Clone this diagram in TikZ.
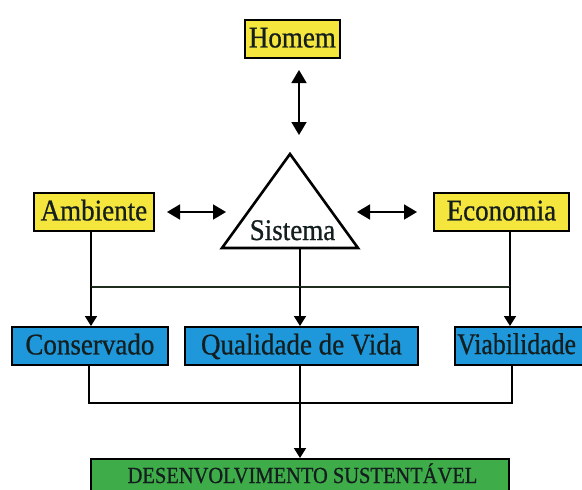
\documentclass[tikz,border=0pt]{standalone}
\usepackage{fontspec}
\setmainfont{Liberation Serif}
\newfontfamily\lblfont[FakeStretch=0.9,FakeBold=0.7]{Liberation Serif}
\newfontfamily\viafont[FakeStretch=0.86,FakeBold=0.7]{Liberation Serif}
\newfontfamily\desfont[FakeStretch=0.89,FakeBold=0.7]{Liberation Serif}
\usetikzlibrary{arrows.meta}
\definecolor{ybox}{RGB}{244,230,60}
\definecolor{bbox}{RGB}{30,152,218}
\definecolor{gbox}{RGB}{62,172,72}
\definecolor{dline}{RGB}{30,45,30}
\definecolor{tcol}{RGB}{20,30,30}
\tikzset{
  boxbase/.style={draw=black, line width=1.8pt, inner sep=0pt, anchor=north west,
    text=tcol, text height=20pt, text depth=3pt},
  lbl/.style={font=\lblfont\fontsize{30}{32}\selectfont},
  ybx/.style={boxbase, fill=ybox, lbl},
  bbx/.style={boxbase, fill=bbox, lbl},
  gbx/.style={boxbase, fill=gbox},
  conn/.style={line width=1.8pt, draw=black},
  arr/.style={conn, -{Triangle[length=10pt,width=12pt]}},
  darr/.style={conn, {Triangle[length=13pt,width=15pt]}-{Triangle[length=13pt,width=15pt]}},
}
\begin{document}
\begin{tikzpicture}[x=1pt,y=-1pt]
\useasboundingbox (0,0) rectangle (582,490);
% yellow boxes
\node[ybx, minimum width=95pt, minimum height=38pt] (homem) at (244,19) {Homem};
\node[ybx, minimum width=120pt, minimum height=38pt] (amb) at (33,192) {Ambiente};
\node[ybx, minimum width=135pt, minimum height=38pt] (eco) at (433,192) {Economia};
% triangle
\coordinate (tA) at (290,154);
\coordinate (tL) at (222,248);
\coordinate (tR) at (358,248);
\draw[line width=2.6pt, fill=white, line join=miter] (tA) -- (tL) -- (tR) -- cycle;
\node[lbl, text=tcol, inner sep=0pt, anchor=base] (sis) at (292.5,240) {Sistema};
% double arrows
\coordinate (hTop) at (299,70);
\coordinate (hBot) at (299,135);
\draw[darr] (hTop) -- (hBot);
\coordinate (lA) at (167,212);
\coordinate (lB) at (226,212);
\draw[darr] (lA) -- (lB);
\coordinate (rA) at (357,212);
\coordinate (rB) at (417,212);
\draw[darr] (rA) -- (rB);
% blue boxes
\node[bbx, minimum width=156pt, minimum height=38pt] (cons) at (11,326) {Conservado};
\node[bbx, minimum width=233pt, minimum height=38pt] (qual) at (184,326) {Qualidade de Vida};
\node[boxbase, fill=bbox, minimum width=140pt, minimum height=38pt] (viab) at (454,326) {};
\node[font=\viafont\fontsize{30}{32}\selectfont, text=tcol, inner sep=0pt, anchor=base west] (viabt) at (457,354) {Viabilidade};
% green box
\node[gbx, minimum width=418pt, minimum height=42pt] (des) at (90,458) {};
\node[font=\desfont\fontsize{23}{25}\selectfont, text=tcol, inner sep=0pt, anchor=base] (dest) at (302.5,483) {DESENVOLVIMENTO SUSTENTÁVEL};
% upper distribution
\coordinate (jL) at (91,287);
\coordinate (jM) at (300,287);
\coordinate (jR) at (510,287);
\draw[conn] (amb.south -| jL) -- (jL);
\draw[conn] (eco.south -| jR) -- (jR);
\draw[conn] (tL -| jM) -- (jM);
\draw[line width=1.6pt, draw=dline] (jL) -- (jR);
\draw[arr] (jL) -- (jL |- cons.north);
\draw[arr] (jM) -- (jM |- qual.north);
\draw[arr] (jR) -- (jR |- viab.north);
% lower collection
\coordinate (kL) at (89,403);
\coordinate (kM) at (300,403);
\coordinate (kR) at (512,403);
\draw[conn] (cons.south -| kL) -- (kL) -- (kR) -- (viab.south -| kR);
\draw[conn] (qual.south -| kM) -- (kM);
\draw[arr] (kM) -- (kM |- des.north);
\end{tikzpicture}
\end{document}
